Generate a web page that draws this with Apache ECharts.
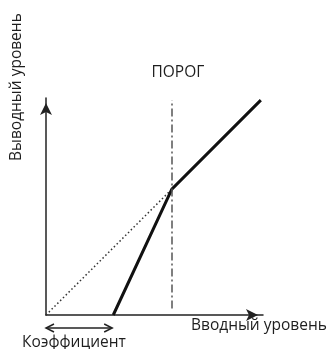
<!DOCTYPE html>
<html><head><meta charset="utf-8">
<script src="https://cdn.jsdelivr.net/npm/echarts@6/dist/echarts.min.js"></script>
<style>html,body{margin:0;padding:0;background:#fff}#c{width:330px;height:349px}</style>
</head><body><div id="c"></div>
<script>
// data (abstract level units, 0..10)
const unityLine = [[0, 0], [5.8, 5.8]];
const transferCurve = [[3.1, 0], [5.8, 5.8], [9.9, 9.9]];
const thresholdX = 5.8;
const thresholdSpan = [0.3, 9.9];
const gainRange = [[0, 3.05]];
const labels = { x: 'Вводный уровень', y: 'Выводный уровень', threshold: 'ПОРОГ', gain: 'Коэффициент' };

const FONT = '"Open Sans", "Noto Sans", sans-serif';
const chart = echarts.init(document.getElementById('c'), null, { renderer: 'canvas' });
const axisCommon = {
  type: 'value', min: 0, max: 10,
  axisTick: { show: false }, axisLabel: { show: false }, splitLine: { show: false },
  axisLine: { show: true, symbol: ['none', 'arrow'], symbolSize: [9, 12], symbolOffset: [0, -5],
    lineStyle: { color: '#222', width: 1.5 } }
};
chart.setOption({
  animation: false,
  grid: { left: 46, top: 98, width: 217, height: 217, containLabel: false },
  xAxis: axisCommon,
  yAxis: axisCommon,
  graphic: [
    { type: 'text', left: 191, top: 318, style: { text: labels.x, font: '15.5px ' + FONT, fill: '#1e1e1e' } },
    { type: 'text', left: 22, top: 335, style: { text: labels.gain, font: '15.5px ' + FONT, fill: '#1e1e1e' } },
    { type: 'text', x: 9, y: 161, rotation: Math.PI / 2, style: { text: labels.y, font: '15.5px ' + FONT, fill: '#1e1e1e' } }
  ],
  series: [
    { type: 'line', data: unityLine, symbol: 'none', silent: true,
      lineStyle: { color: '#333', width: 1.5, type: [1.5, 2.5] } },
    { type: 'line', data: transferCurve, symbol: 'none', silent: true,
      lineStyle: { color: '#111', width: 3, join: 'miter' },
      markLine: { symbol: 'none', silent: true, animation: false,
        label: { show: true, position: 'end', formatter: labels.threshold, distance: 20, offset: [6, 0],
          fontFamily: FONT, fontSize: 15.5, color: '#1e1e1e' },
        lineStyle: { color: '#555', width: 1.5, type: [8, 3, 2, 3] },
        data: [[{ coord: [thresholdX, thresholdSpan[0]] }, { coord: [thresholdX, thresholdSpan[1]] }]] } },
    { type: 'custom', data: gainRange, silent: true,
      renderItem: function (params, api) {
        const a = api.coord([api.value(0), 0]);
        const b = api.coord([api.value(1), 0]);
        const y = a[1] + 13;
        const st = { stroke: '#222', lineWidth: 1.5, fill: null };
        return { type: 'group', children: [
          { type: 'line', shape: { x1: a[0], y1: y, x2: b[0], y2: y }, style: st },
          { type: 'polyline', shape: { points: [[a[0] + 8, y - 4], [a[0], y], [a[0] + 8, y + 4]] }, style: st },
          { type: 'polyline', shape: { points: [[b[0] - 8, y - 4], [b[0], y], [b[0] - 8, y + 4]] }, style: st }
        ] };
      } }
  ]
});
</script></body></html>
